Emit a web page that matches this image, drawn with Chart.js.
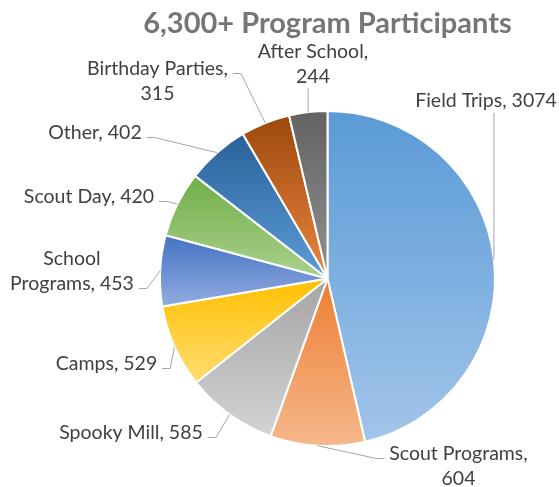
<!DOCTYPE html>
<html>
<head>
<meta charset="utf-8">
<script src="https://cdn.jsdelivr.net/npm/chart.js@4.4.1/dist/chart.umd.min.js"></script>
<style>
  html, body { margin: 0; padding: 0; background: #fff; }
  #wrap { width: 559px; height: 487px; }
</style>
</head>
<body>
<div id="wrap"><canvas id="pieChart"></canvas></div>
<script>
// === Data ===
const categories = ['Field Trips', 'Scout Programs', 'Spooky Mill', 'Camps', 'School Programs',
  'Scout Day', 'Other', 'Birthday Parties', 'After School'];
const participants = [3074, 604, 585, 529, 453, 420, 402, 315, 244];
const chartTitle = '6,300+ Program Participants';

// === Colours (top of slice -> bottom of slice) ===
const topColors = ['#5a9ad6', '#ed7d31', '#a5a5a5', '#ffc000', '#4472c4', '#70ad47', '#29619a', '#9e480e', '#626262'];
const bottomColors = ['#a2c5ea', '#f6b88c', '#d3d3d3', '#ffdc72', '#92acdf', '#aad28e', '#5e9dd8', '#e8863f', '#919191'];

// label spots, offsets from the pie centre; split = words on first line
const labelSpots = [
  { dx: 158.5, dy: -177.5, split: 0 },
  { dx: 131, dy: 175, split: 2 },
  { dx: -196.5, dy: 154, split: 0 },
  { dx: -221, dy: 85, split: 0 },
  { dx: -255.5, dy: -20, split: 1 },
  { dx: -238.5, dy: -82, split: 0 },
  { dx: -232.5, dy: -146, split: 0 },
  { dx: -170, dy: -210, split: 2 },
  { dx: -14.5, dy: -227, split: 2 }
];

// === Gradient fill per slice ===
function sliceFill(context) {
  const i = context.dataIndex;
  const chart = context.chart;
  const area = chart.chartArea;
  const ctrl = chart.getDatasetMeta(0).controller;
  if (!area || i === undefined || !ctrl || !ctrl.outerRadius) return topColors[i] || topColors[0];
  const r = ctrl.outerRadius;
  const cy = (area.top + area.bottom) / 2;
  const total = participants.reduce((a, b) => a + b, 0);
  const before = participants.slice(0, i).reduce((a, b) => a + b, 0);
  const a0 = -Math.PI / 2 + 2 * Math.PI * before / total;
  const a1 = a0 + 2 * Math.PI * participants[i] / total;
  const ys = [cy, cy + r * Math.sin(a0), cy + r * Math.sin(a1)];
  [-Math.PI / 2, Math.PI / 2, 3 * Math.PI / 2].forEach(ext => {
    if (ext >= a0 && ext <= a1) ys.push(cy + r * Math.sin(ext));
  });
  const g = chart.ctx.createLinearGradient(0, Math.min(...ys), 0, Math.max(...ys));
  g.addColorStop(0, topColors[i]);
  g.addColorStop(1, bottomColors[i]);
  return g;
}

// === Outside labels with leader lines ===
const outsideLabels = {
  id: 'outsideLabels',
  afterDatasetsDraw(chart, args, opts) {
    const { ctx } = chart;
    const meta = chart.getDatasetMeta(0);
    ctx.save();
    ctx.font = opts.font;
    ctx.textAlign = 'center';
    ctx.textBaseline = 'middle';
    meta.data.forEach((arc, i) => {
      const spot = labelSpots[i];
      const mid = (arc.startAngle + arc.endAngle) / 2;
      const px = arc.x + Math.cos(mid) * arc.outerRadius;
      const py = arc.y + Math.sin(mid) * arc.outerRadius;
      const words = `${categories[i]}, ${participants[i]}`.split(' ');
      const lines = spot.split
        ? [words.slice(0, spot.split).join(' '), words.slice(spot.split).join(' ')]
        : [words.join(' ')];
      const cx = arc.x + spot.dx;
      const cy = arc.y + spot.dy;

      let widest = 0, wi = 0;
      lines.forEach((l, k) => {
        const w = ctx.measureText(l).width;
        if (w > widest) { widest = w; wi = k; }
      });
      const left = cx - widest / 2;
      const right = cx + widest / 2;

      ctx.strokeStyle = opts.lineColor;
      ctx.lineWidth = 1;
      ctx.beginPath();
      if (px > left && px < right) {
        const bottom = cy + (lines.length - 1) * opts.lineHeight + 12;
        ctx.moveTo(px, bottom);
        ctx.lineTo(px, py);
      } else {
        const side = px < left ? -1 : 1;
        const edge = side < 0 ? left : right;
        const ay = cy + wi * opts.lineHeight + 5;
        ctx.moveTo(edge + side * 5, ay);
        ctx.lineTo(edge + side * 13, ay);
        ctx.lineTo(px, py);
      }
      ctx.stroke();

      ctx.fillStyle = opts.color;
      lines.forEach((l, k) => ctx.fillText(l, cx, cy + k * opts.lineHeight));
    });
    ctx.restore();
  }
};

// === Chart ===
new Chart(document.getElementById('pieChart'), {
  type: 'pie',
  data: {
    labels: categories,
    datasets: [{
      data: participants,
      backgroundColor: sliceFill,
      borderColor: '#ffffff',
      borderWidth: 2
    }]
  },
  options: {
    responsive: true,
    maintainAspectRatio: false,
    animation: false,
    events: [],
    layout: { padding: { left: 96, right: 0, top: 0, bottom: 40 } },
    plugins: {
      legend: { display: false },
      tooltip: { enabled: false },
      title: {
        display: true,
        text: chartTitle,
        color: '#767676',
        font: { family: 'Lato', size: 29, weight: 'bold' },
        padding: { top: 6.6, bottom: 68.6 }
      },
      outsideLabels: {
        font: '19.5px Lato',
        color: '#404040',
        lineColor: '#a6a6a6',
        lineHeight: 25
      }
    }
  },
  plugins: [outsideLabels]
});
</script>
</body>
</html>
